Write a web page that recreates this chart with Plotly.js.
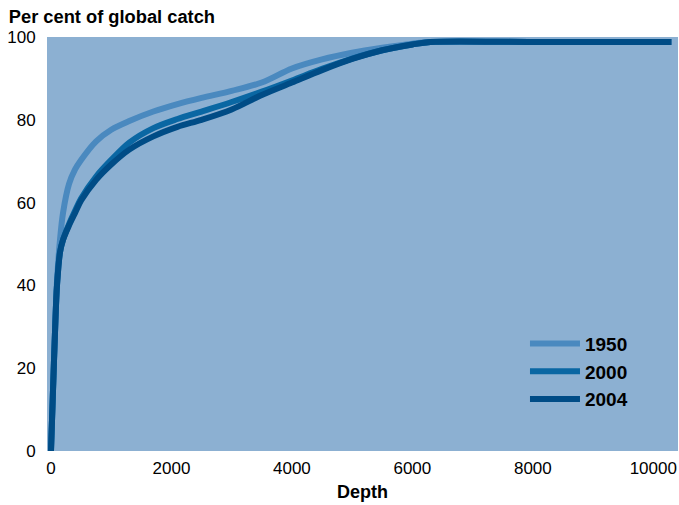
<!DOCTYPE html>
<html>
<head>
<meta charset="utf-8">
<script src="https://cdn.plot.ly/plotly-3.0.1.min.js"></script>
<style>html,body{margin:0;padding:0;background:#fff;}#chart{width:679px;height:505px;}</style>
</head>
<body>
<div id="chart"></div>
<script>
const depth = [0, 30, 70, 100, 150, 200, 300, 400, 500, 750, 1000, 1300, 1700, 2100, 2500, 3000, 3500, 4000, 4500, 5000, 5500, 6000, 6300, 8000, 10300];
const catch1950 = [0, 13, 30, 41, 51, 57.5, 64.5, 68, 70.3, 74.8, 77.6, 79.7, 82, 83.8, 85.3, 87, 89, 92.4, 94.6, 96.2, 97.4, 98.4, 98.8, 98.8, 98.8];
const catch2000 = [0, 13, 30, 40, 48, 51, 54.8, 58, 61, 66.3, 70.3, 74.5, 78, 80.2, 82, 84.3, 86.8, 89.5, 92.3, 94.8, 96.8, 98.2, 98.8, 98.8, 98.8];
const catch2004 = [0, 13, 30, 40, 48, 51, 54.5, 57.5, 60.5, 65.5, 69.2, 72.8, 76, 78.3, 80, 82.5, 86, 89, 92, 94.7, 96.8, 98.2, 98.8, 98.8, 98.8];
const seriesNames = ["1950", "2000", "2004"];
const seriesColors = ["#4a89bf", "#0a67a3", "#004c86"];
const seriesValues = [catch1950, catch2000, catch2004];
const xTicks = [0, 2000, 4000, 6000, 8000, 10000];
const xTickText = ["0", "2000", "4000", "6000", "8000", "10000"];
const yTicks = [0, 20, 40, 60, 80, 100];

const font = "'Liberation Sans', Arial, Helvetica, sans-serif";
const traces = seriesNames.map((n, i) => ({
  type: "scatter", mode: "lines", name: n,
  x: depth, y: seriesValues[i],
  line: {color: seriesColors[i], width: 6, shape: "spline", smoothing: 0.9}
}));

const layout = {
  width: 679, height: 505,
  margin: {l: 47, r: 1, t: 37, b: 54},
  paper_bgcolor: "#ffffff",
  plot_bgcolor: "#8cb0d2",
  font: {family: font, size: 17, color: "#000"},
  title: {text: "<b>Per cent of global catch</b>", x: 0.013, xanchor: "left", y: 0.967, yanchor: "middle", font: {family: font, size: 18.3, color: "#000"}},
  xaxis: {range: [-66, 10410], tickvals: xTicks, ticktext: xTickText, showgrid: false, zeroline: false, showline: false,
    ticks: "outside", ticklen: 2, tickcolor: "rgba(0,0,0,0)",
    title: {text: "<b>Depth</b>", font: {family: font, size: 18}, standoff: 7}},
  yaxis: {range: [0, 100], tickvals: yTicks, showgrid: false, zeroline: false, showline: false,
    ticks: "outside", ticklen: 7, tickcolor: "rgba(0,0,0,0)"},
  showlegend: true,
  legend: {x: 0.7575, y: 0.305, xanchor: "left", yanchor: "top", bgcolor: "rgba(0,0,0,0)",
    font: {family: font, size: 19, color: "#000", weight: "bold"}, itemwidth: 50, tracegroupgap: 0}
};
Plotly.newPlot("chart", traces, layout, {staticPlot: true});
</script>
</body>
</html>
